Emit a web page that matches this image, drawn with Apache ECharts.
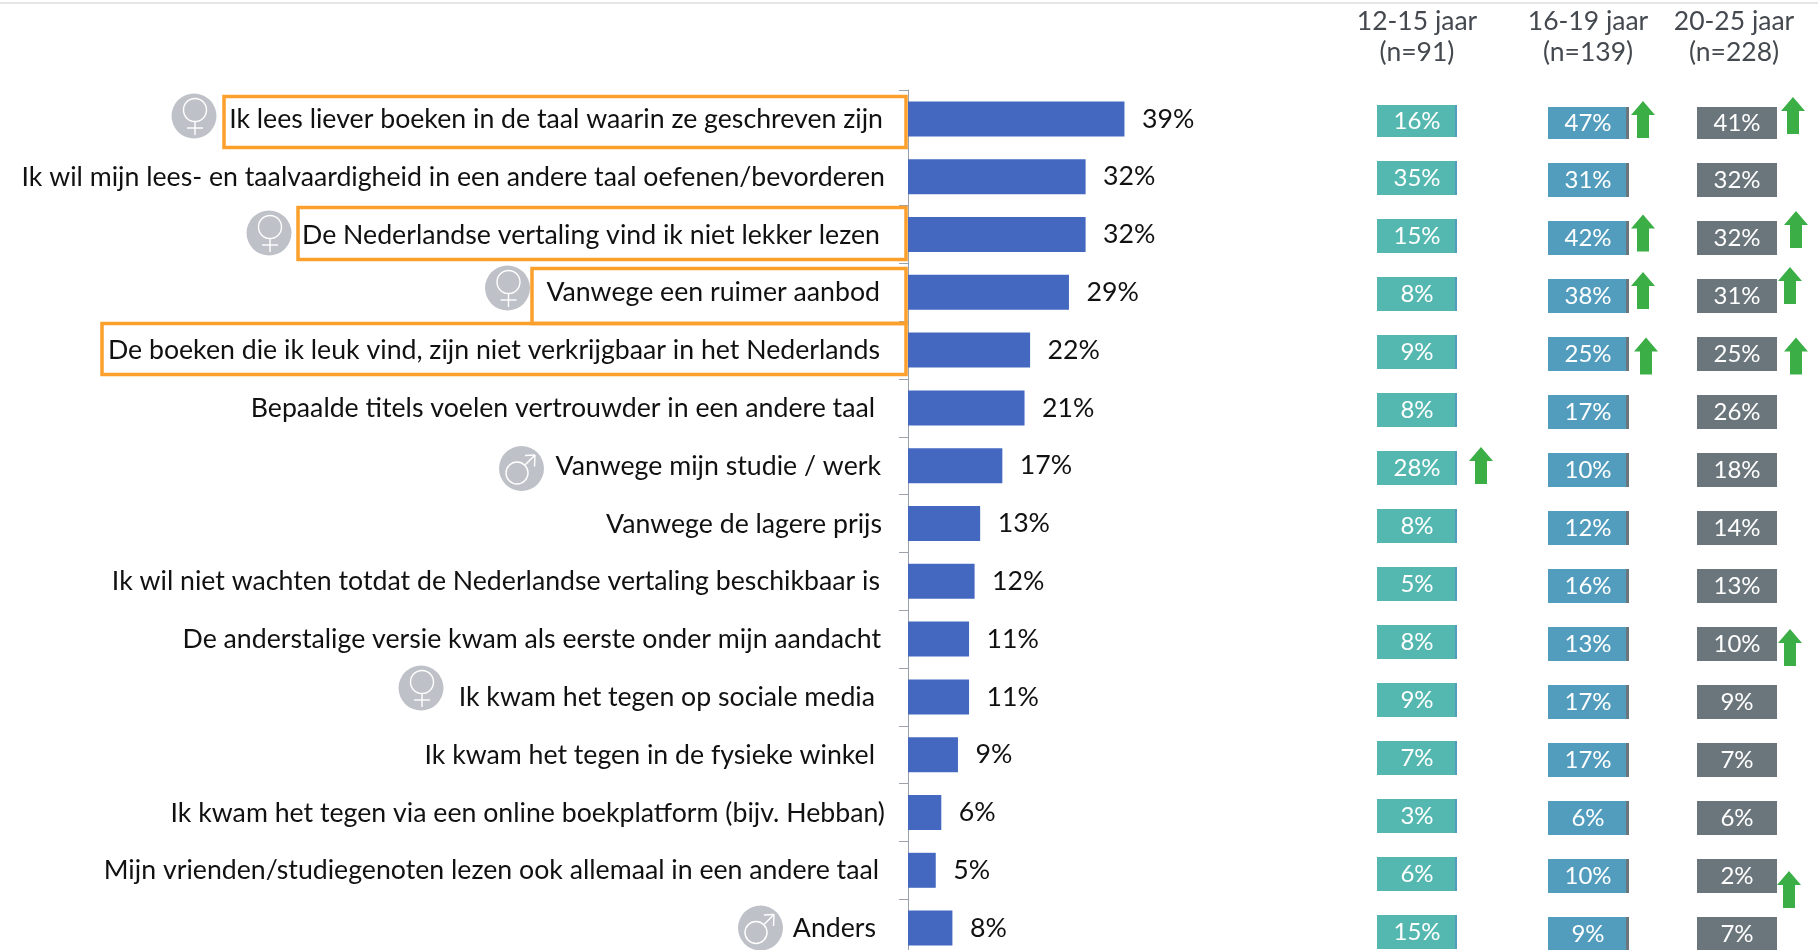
<!DOCTYPE html>
<html><head><meta charset="utf-8">
<style>html,body{margin:0;padding:0;background:#fff}#c{width:1818px;height:950px}</style>
<script src="https://cdn.jsdelivr.net/npm/echarts@6/dist/echarts.min.js"></script>
</head><body><div id="c"></div>
<script>
const statements = [
 "Ik lees liever boeken in de taal waarin ze geschreven zijn",
 "Ik wil mijn lees- en taalvaardigheid in een andere taal oefenen/bevorderen",
 "De Nederlandse vertaling vind ik niet lekker lezen",
 "Vanwege een ruimer aanbod",
 "De boeken die ik leuk vind, zijn niet verkrijgbaar in het Nederlands",
 "Bepaalde titels voelen vertrouwder in een andere taal",
 "Vanwege mijn studie / werk",
 "Vanwege de lagere prijs",
 "Ik wil niet wachten totdat de Nederlandse vertaling beschikbaar is",
 "De anderstalige versie kwam als eerste onder mijn aandacht",
 "Ik kwam het tegen op sociale media",
 "Ik kwam het tegen in de fysieke winkel",
 "Ik kwam het tegen via een online boekplatform (bijv. Hebban)",
 "Mijn vrienden/studiegenoten lezen ook allemaal in een andere taal",
 "Anders"];
const totalValues = [39,32,32,29,22,21,17,13,12,11,11,9,6,5,8];
const age1215 = [16,35,15,8,9,8,28,8,5,8,9,7,3,6,15];
const age1619 = [47,31,42,38,25,17,10,12,16,13,17,17,6,10,9];
const age2025 = [41,32,32,31,25,26,18,14,13,10,9,7,6,2,7];
const columnHeaders = ["12-15 jaar\n(n=91)","16-19 jaar\n(n=139)","20-25 jaar\n(n=228)"];

// layout tables (row index -> adjustment), separate from the data
const labelRightEdge = [883,885,880,880,880,875,881,882,880,881,875,875,885,879,876];
const icons = [[0,'f',194,116],[2,'f',269,233],[3,'f',507.5,288],[6,'m',521.5,468.5],[10,'f',421,688],[14,'m',760.5,928]];
const boxes = [[0,224,96.5,147.5],[2,298,207.5,259.5],[3,532,268.5,323.5],[4,102,323.5,374.5]];
const arrows1 = [[6,64,-2.5]];
const arrows2 = [[0,55,-2.5],[2,55,-5],[3,55,-5.5],[4,58,2]];
const arrows3 = [[0,56,-6.5],[2,59,-8.5],[3,53,-10.5],[4,59,2],[9,53,3.5],[13,52,13.5]];

const AXIS_X = 908, FONT = 'Lato';
const arrowPath = 'path://M12 0 L24 14 L18 14 L18 37 L6 37 L6 14 L0 14 Z';

function boxSeries(idx, values, fill, stripe, arrowList){
  const out = [{
    type:'custom', xAxisIndex:idx, yAxisIndex:idx, coordinateSystem:'cartesian2d', clip:false, z:3,
    data: values.map((v,i)=>[0,i,v]),
    renderItem(params, api){
      const c = api.coord([0, api.value(1)]);
      const i = api.value(1);
      const W = idx===1 ? 78 : 80, top = i===0 ? c[1]-15 : c[1]-17, bottom = c[1]+17;
      const x0 = c[0]-40;
      const kids = [{type:'rect',shape:{x:x0,y:top,width:W,height:bottom-top},style:{fill}}];
      if(stripe) kids.push({type:'rect',shape:{x:x0+W-(idx===0?2:0),y:top,width:idx===0?2:3,height:bottom-top},style:{fill:stripe}});
      kids.push({type:'text',style:{text:api.value(2)+'%',x:x0+40,y:(top+bottom)/2,align:'center',verticalAlign:'middle',
        fill:'#fff',font:'24px '+FONT}});
      return {type:'group',children:kids};
    }
  }];
  out.push({
    type:'scatter', xAxisIndex:idx, yAxisIndex:idx, clip:false, z:4, silent:true,
    symbol:arrowPath, symbolSize:[24,37], symbolKeepAspect:false,
    itemStyle:{color:'#3bae46',opacity:1},
    data: arrowList.map(a=>({value:[0,a[0]],symbolOffset:[a[1],a[2]]}))
  });
  return out;
}

const columnGrids = [
  {left:1337,width:160,top:91,height:870,outerBoundsMode:'none'},
  {left:1508,width:160,top:93,height:870,outerBoundsMode:'none'},
  {left:1657,width:160,top:93,height:870,outerBoundsMode:'none'}
];
const rowIdx = statements.map((_,i)=>i);

const option = {
  animation:false,
  backgroundColor:'#fff',
  textStyle:{fontFamily:FONT},
  grid:[...columnGrids,{left:AXIS_X,width:555,top:90,height:867,containLabel:false,outerBoundsMode:'none'}],
  xAxis:[
    ...columnHeaders.map((h,i)=>({gridIndex:i,type:'category',data:[h],position:'top',
      axisLabel:{color:'#44494f',fontSize:26.5,lineHeight:31.5,fontFamily:FONT,margin:i===0?22.5:24.5,
                 padding:i===2?[0,6,0,0]:0,interval:0},
      axisLine:{show:false},axisTick:{show:false}})),
    {gridIndex:3,type:'value',min:0,max:100,show:false}
  ],
  yAxis:[
    ...[0,1,2].map(i=>({gridIndex:i,type:'category',inverse:true,data:rowIdx,show:false})),
    {gridIndex:3,type:'category',inverse:true,data:statements,
      axisLine:{show:true,lineStyle:{color:'#9aa1aa',width:1}},
      axisTick:{show:true,inside:false,length:9,alignWithLabel:false,interval:0,lineStyle:{color:'#9aa1aa',width:1}},
      axisLabel:{
        interval:0,margin:0,
        formatter:(v,i)=>'{r'+i+'|'+v+'}',
        rich:Object.fromEntries(labelRightEdge.map((e,i)=>['r'+i,{
          fontFamily:FONT,fontSize:26.7,color:'#111',padding:[1,AXIS_X-e,0,0]
        }]))
      }}
  ],
  series:[
    ...boxSeries(0,age1215,'#55b8b0','#529dbd',arrows1),
    ...boxSeries(1,age1619,'#529dbd','#6b767c',arrows2),
    ...boxSeries(2,age2025,'#6b767c',null,arrows3),
    {type:'bar',xAxisIndex:3,yAxisIndex:3,data:totalValues,barWidth:35,
      itemStyle:{color:'#4468c0'},z:3,
      label:{show:true,position:'right',distance:17.5,formatter:'{c}%',color:'#111',fontSize:26.7,fontFamily:FONT}},
    // orange highlight frames, anchored on the axis origin
    {type:'custom',xAxisIndex:3,yAxisIndex:3,clip:false,z:5,silent:true,
      data:boxes.map(b=>[0,b[0],b[1],b[2],b[3]]),
      renderItem(p,api){
        const right=api.coord([0,api.value(1)])[0]-2, l=api.value(2), t=api.value(3), b=api.value(4);
        return {type:'rect',shape:{x:l,y:t,width:right-l,height:b-t},
          style:{fill:'none',stroke:'#fba02d',lineWidth:3.5}};
      }},
    // gender icons
    {type:'custom',xAxisIndex:3,yAxisIndex:3,clip:false,z:5,silent:true,
      data:icons.map(a=>[0,a[0],a[1]==='f'?0:1,a[2],a[3]]),
      renderItem(p,api){
        const cx=api.value(3), cy=api.value(4), male=api.value(2)===1;
        const white={stroke:'#fff',lineWidth:1.4,fill:'none'};
        const kids=[{type:'circle',shape:{cx,cy,r:22.5},style:{fill:'#bec2c8'}}];
        if(!male){
          kids.push({type:'circle',shape:{cx:cx+1,cy:cy-6,r:11.5},style:white});
          kids.push({type:'line',shape:{x1:cx+1,y1:cy+5.5,x2:cx+1,y2:cy+19},style:white});
          kids.push({type:'line',shape:{x1:cx-7,y1:cy+12,x2:cx+9,y2:cy+12},style:white});
        }else{
          kids.push({type:'circle',shape:{cx:cx-4.5,cy:cy+4.5,r:11},style:white});
          kids.push({type:'line',shape:{x1:cx+3.5,y1:cy-3.5,x2:cx+13.5,y2:cy-13.5},style:white});
          kids.push({type:'line',shape:{x1:cx+3.5,y1:cy-13,x2:cx+13.5,y2:cy-13.5},style:white});
          kids.push({type:'line',shape:{x1:cx+13.5,y1:cy-13.5,x2:cx+13,y2:cy-2},style:white});
        }
        return {type:'group',children:kids};
      }}
  ],
  graphic:[{type:'rect',shape:{x:0,y:2,width:1818,height:2},style:{fill:'#e6e6e6'},silent:true}]
};
echarts.init(document.getElementById('c')).setOption(option);
</script></body></html>
